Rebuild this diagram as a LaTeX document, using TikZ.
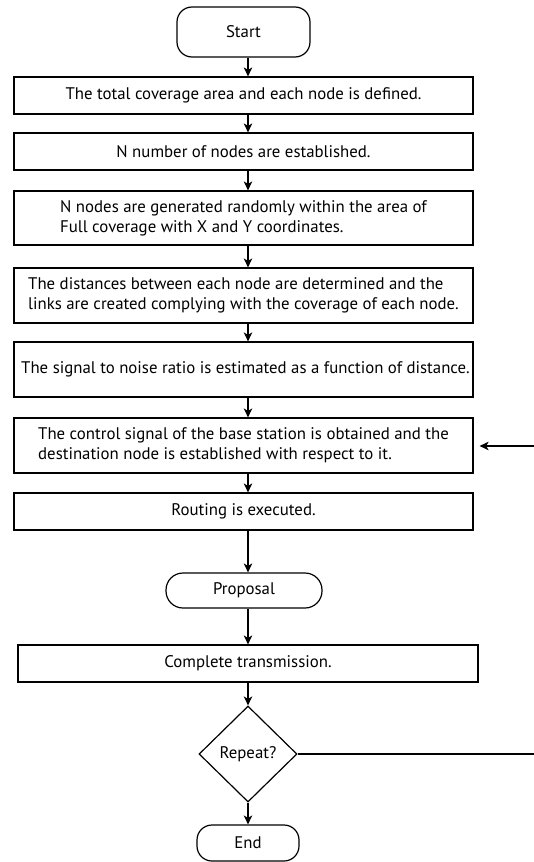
\documentclass[tikz,border=0pt]{standalone}
\usepackage{fontspec}
\setmainfont{PT Sans}
\usetikzlibrary{shapes.geometric,arrows.meta}
\begin{document}
\begin{tikzpicture}[x=1pt,y=-1pt,
  every node/.style={font=\fontsize{16.8}{20}\selectfont},
  box/.style={draw, line width=1.2pt, rectangle, inner sep=0pt, minimum width=459pt, align=left},
  term/.style={draw, line width=1.2pt, rectangle, rounded corners=15pt, inner sep=0pt},
  decision/.style={draw, line width=1.2pt, diamond, inner sep=0pt, minimum width=98pt, minimum height=96pt},
  arr/.style={line width=1.2pt, -{Stealth[length=9pt,width=8.5pt,inset=2.5pt]}},
  plain/.style={line width=1.2pt}]
\useasboundingbox (0,0) rectangle (534,862);
\node[term, minimum width=133pt, minimum height=50pt] (start) at (243.5,32) {Start};
\node[box, minimum height=37pt] (b1) at (243.5,95.5) {The total coverage area and each node is defined.};
\node[box, minimum height=37pt] (b2) at (243.5,151.5) {N number of nodes are established.};
\node[box, minimum height=54pt] (b3) at (243.5,218) {N nodes are generated randomly within the area of\\Full coverage with X and Y coordinates.};
\node[box, minimum height=55pt] (b4) at (243.5,295.5) {The distances between each node are determined and the\\links are created complying with the coverage of each node.};
\node[box, minimum height=55pt] (b5) at (243.5,369.5) {\hspace*{4pt}The signal to noise ratio is estimated as a function of distance.};
\node[box, minimum height=55pt] (b6) at (243.5,445.5) {The control signal of the base station is obtained and the\\destination node is established with respect to it.};
\node[box, minimum height=37pt] (b7) at (243.5,511.5) {Routing is executed.};
\node[term, rounded corners=17pt, minimum width=156pt, minimum height=35pt] (prop) at (244,590.5) {Proposal};
\node[box, minimum width=460pt, minimum height=37pt] (b8) at (248,663.5) {Complete transmission.};
\node[decision] (dia) at (248,754) {Repeat?};
\node[term, minimum width=102pt, minimum height=36pt] (end) at (248,843) {End};
\coordinate (r1) at (534,754);
\coordinate (r2) at (534,446);
\draw[arr] (start.south -| dia) -- (b1.north -| dia);
\draw[arr] (b1.south -| dia) -- (b2.north -| dia);
\draw[arr] (b2.south -| dia) -- (b3.north -| dia);
\draw[arr] (b3.south -| dia) -- (b4.north -| dia);
\draw[arr] (b4.south -| dia) -- (b5.north -| dia);
\draw[arr] (b5.south -| dia) -- (b6.north -| dia);
\draw[arr] (b6.south -| dia) -- (b7.north -| dia);
\draw[arr] (b7.south -| dia) -- (prop.north -| dia);
\draw[arr] (prop.south -| dia) -- (b8.north -| dia);
\draw[arr] (b8.south -| dia) -- (dia.north);
\draw[arr] (dia.south) -- (end.north);
\draw[plain] (dia.east) -- (r1);
\draw[arr, shorten >=6pt] (r2) -- (b6.east |- r2);
\end{tikzpicture}
\end{document}
